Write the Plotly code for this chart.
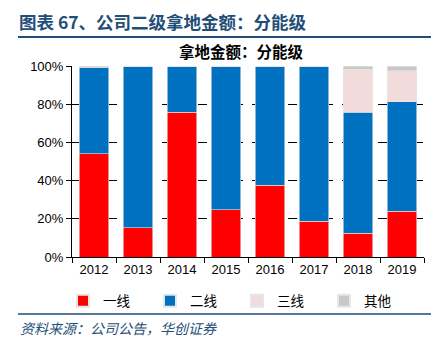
import plotly.graph_objects as go

years = ["2012", "2013", "2014", "2015", "2016", "2017", "2018", "2019"]
tier1 = [54.0, 15.3, 75.8, 24.7, 37.6, 18.6, 12.5, 24.0]
tier2 = [45.0, 84.7, 24.2, 75.3, 62.4, 81.4, 63.3, 57.2]
tier3 = [0.0, 0.0, 0.0, 0.0, 0.0, 0.0, 22.5, 16.3]
other = [1.0, 0.0, 0.0, 0.0, 0.0, 0.0, 1.7, 2.5]

names = ["一线", "二线", "三线", "其他"]
colors = ["#FF0000", "#0070C0", "#F2DCDB", "#C8C8C8"]
series = [tier1, tier2, tier3, other]

W, H = 442, 346
L, R, T, B = 72, 18, 66, 89

fig = go.Figure()
for nm, col, vals in zip(names, colors, series):
    fig.add_trace(go.Bar(
        x=years, y=vals, name=nm,
        marker=dict(color=col, line=dict(color="#E6E6E6", width=0.6)),
        width=0.68,
    ))

ph = H - T - B
def py(p):
    return (H - B - p) / ph
pw = W - L - R
def px(p):
    return (p - L) / pw

blue = "#1F4E79"
cjk = "Noto Sans CJK SC"
fig.update_layout(
    width=W, height=H,
    margin=dict(l=L, r=R, t=T, b=B),
    barmode="stack",
    bargap=0.32,
    plot_bgcolor="white",
    paper_bgcolor="white",
    font=dict(family="Liberation Sans, Arial", size=12, color="black"),
    showlegend=True,
    legend=dict(
        orientation="h", x=px(63), y=py(301), yanchor="middle", xanchor="left",
        entrywidth=42, entrywidthmode="pixels",
        font=dict(family=cjk, size=13.5, color="black"),
        bgcolor="rgba(0,0,0,0)",
        itemsizing="constant", traceorder="normal",
    ),
    xaxis=dict(
        showline=True, linecolor="black", linewidth=1,
        ticks="outside", tickson="boundaries", ticklen=5, tickcolor="black",
        tickfont=dict(size=13, color="black"),
    ),
    yaxis=dict(
        range=[0, 100], tickvals=[0, 20, 40, 60, 80, 100],
        ticktext=["0%", "20%", "40%", "60%", "80%", "100%"],
        showline=True, linecolor="black", linewidth=1,
        ticks="outside", ticklen=5, tickcolor="black",
        showgrid=True, gridcolor="black", griddash="dash", gridwidth=1,
        zeroline=False, tickfont=dict(size=13, color="black"),
    ),
    annotations=[
        dict(text="<b>图表 67、公司二级拿地金额：分能级</b>", xref="paper", yref="paper",
             x=px(17), y=py(21), xanchor="left", yanchor="middle", showarrow=False,
             font=dict(family=cjk, size=17.5, color=blue)),
        dict(text="<b>拿地金额：分能级</b>", xref="paper", yref="paper",
             x=px(241), y=py(51), xanchor="center", yanchor="middle", showarrow=False,
             font=dict(family=cjk, size=15.5, color="black")),
        dict(text="<i>资料来源：公司公告，华创证券</i>", xref="paper", yref="paper",
             x=px(18), y=py(328), xanchor="left", yanchor="middle", showarrow=False,
             font=dict(family=cjk, size=14, color=blue)),
    ],
    shapes=[
        dict(type="line", xref="paper", yref="paper", x0=px(18), x1=px(431),
             y0=py(37), y1=py(37), line=dict(color=blue, width=2)),
        dict(type="line", xref="paper", yref="paper", x0=px(18), x1=px(431),
             y0=py(314), y1=py(314), line=dict(color=blue, width=1.5)),
    ],
)

fig.write_html("out.html")
